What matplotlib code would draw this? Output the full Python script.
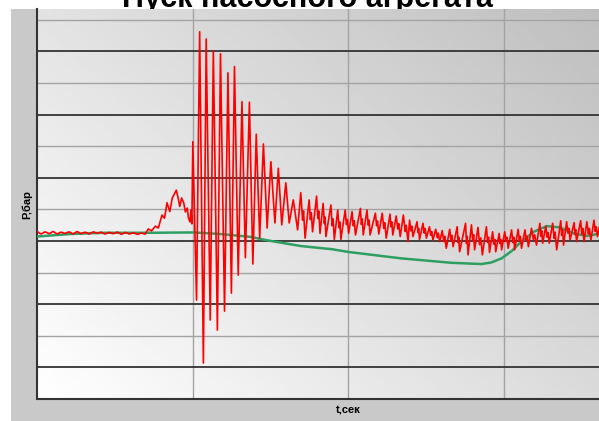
import numpy as np
import matplotlib
matplotlib.use("Agg")
import matplotlib.pyplot as plt
from matplotlib.patches import Rectangle

plt.rcParams["font.family"] = ["Liberation Sans", "DejaVu Sans"]

TITLE = "Пуск насосного агрегата"
X_LABEL = "t,сек"
Y_LABEL = "Р,бар"

# давление на выходе насоса (красная кривая), t в секундах, p в барах
red_t = [
    0.00, 0.13, 0.26, 0.39, 0.52, 0.65, 0.77, 0.90, 1.03, 1.16, 1.29, 1.42, 1.55, 1.68,
    1.81, 1.94, 2.06, 2.19, 2.32, 2.45, 2.58, 2.71, 2.84, 2.97, 3.10, 3.23, 3.35, 3.48,
    3.58, 3.68, 3.81, 3.90, 4.02, 4.10, 4.18, 4.27, 4.35, 4.48, 4.55, 4.59, 4.65, 4.72,
    4.77, 4.83, 4.87, 4.92, 4.95, 4.98,
    5.01, 5.13, 5.23, 5.35, 5.44, 5.57, 5.67, 5.80, 5.90, 6.03, 6.14, 6.25, 6.35, 6.47,
    6.59, 6.70, 6.83, 6.94, 7.05, 7.16, 7.28, 7.40, 7.52, 7.65, 7.76, 7.87, 8.00, 8.11,
    8.24, 8.38, 8.48, 8.62, 8.75, 8.86, 8.99, 9.10, 9.20, 9.29, 9.45, 9.56, 9.67, 9.77,
    9.91, 10.02, 10.13, 10.24, 10.40, 10.49, 10.61, 10.71, 10.88, 10.99,
    11.10, 11.23, 11.35, 11.44, 11.55, 11.68, 11.78, 11.93, 11.98, 12.09, 12.22, 12.30,
    12.41, 12.52, 12.62, 12.73, 12.82, 12.95, 13.03, 13.16, 13.27, 13.38, 13.51, 13.59,
    13.78, 13.86, 13.97, 14.07, 14.18, 14.32, 14.45, 14.55,
    14.65, 14.75, 14.86, 14.94, 15.04, 15.15, 15.26, 15.36, 15.47, 15.58, 15.69, 15.80,
    15.90, 16.06, 16.17, 16.26, 16.36, 16.47, 16.58, 16.71, 16.84, 16.93, 17.03, 17.14,
    17.27, 17.35, 17.48, 17.59, 17.68, 17.81, 17.91, 18.02, 18.13,
]
red_p = [
    5.30, 5.22, 5.29, 5.23, 5.30, 5.22, 5.28, 5.24, 5.29, 5.22, 5.30, 5.23, 5.28, 5.22,
    5.29, 5.24, 5.28, 5.22, 5.27, 5.23, 5.28, 5.21, 5.27, 5.22, 5.26, 5.21, 5.25, 5.22,
    5.38, 5.32, 5.47, 5.41, 5.82, 5.72, 6.21, 5.93, 6.36, 6.61, 6.30, 6.09, 6.36, 6.20,
    5.92, 6.04, 5.73, 5.60, 5.98, 5.54,
    8.14, 3.13, 11.62, 1.14, 11.39, 2.50, 11.01, 2.18, 10.92, 2.78, 10.32, 3.35, 10.52, 3.92,
    9.41, 4.47, 9.39, 4.27, 8.38, 5.09, 8.07, 5.41, 7.51, 5.57, 7.30, 5.51, 6.84, 5.57,
    6.30, 5.35, 6.53, 5.09, 6.30, 5.29, 6.42, 5.24, 6.19, 5.14, 6.14, 5.05, 5.98, 5.05,
    5.98, 5.24, 5.93, 5.19, 6.03, 5.19, 5.98, 5.19, 5.88, 5.22,
    5.88, 5.09, 5.85, 5.19, 5.79, 5.14, 5.82, 4.98, 5.66, 5.14, 5.61, 5.05,
    5.56, 5.09, 5.45, 5.03, 5.37, 4.98, 5.33, 4.77, 5.37, 4.82, 5.45, 4.66,
    5.56, 4.56, 5.51, 4.72, 5.43, 4.56, 5.45, 4.64,
    5.29, 4.66, 5.24, 4.72, 5.29, 4.77, 5.35, 4.72, 5.37, 4.77, 5.35, 4.82,
    5.40, 4.87, 5.56, 4.93, 5.47, 4.93, 5.56, 4.72, 5.64, 4.87, 5.61, 5.03,
    5.58, 4.98, 5.64, 4.98, 5.61, 5.03, 5.66, 5.14, 5.66,
]

# мелкие всплески (шум) на спадах колебаний после 8.5 с
noise_t = [
    8.54, 8.57, 8.79, 8.82, 9.03, 9.06, 9.24, 9.26, 9.49, 9.52, 9.71, 9.74,
    9.95, 9.98, 10.17, 10.20, 10.43, 10.46, 10.65, 10.68, 10.92, 10.95,
    11.15, 11.18, 11.38, 11.41, 11.60, 11.63, 11.84, 11.87, 12.02, 12.05,
    12.25, 12.27, 12.45, 12.48, 12.66, 12.69, 12.87, 12.90, 13.08, 13.11,
    13.31, 13.34, 13.54, 13.56, 13.81, 13.83, 14.01, 14.04, 14.23, 14.27,
    14.49, 14.52, 14.69, 14.72, 14.89, 14.91, 15.08, 15.11, 15.30, 15.33,
    15.51, 15.54, 15.73, 15.76, 15.96, 16.00, 16.20, 16.23, 16.40, 16.43,
    16.63, 16.66, 16.87, 16.90, 17.07, 17.10, 17.30, 17.32, 17.52, 17.55,
    17.73, 17.76, 17.95, 17.98,
]
noise_p = [
    5.66, 5.95, 5.68, 5.90, 5.71, 5.95, 5.55, 5.76, 5.48, 5.70, 5.42, 5.60,
    5.52, 5.68, 5.48, 5.64, 5.52, 5.70, 5.50, 5.66, 5.48, 5.63,
    5.40, 5.58, 5.45, 5.60, 5.38, 5.55, 5.30, 5.50, 5.32, 5.47,
    5.27, 5.40, 5.25, 5.40, 5.18, 5.30, 5.10, 5.25, 4.98, 5.15,
    5.02, 5.18, 4.95, 5.12, 4.92, 5.15, 5.02, 5.20, 4.88, 5.10,
    4.95, 5.12, 4.90, 5.05, 4.92, 5.05, 4.98, 5.12, 4.95, 5.12,
    5.00, 5.15, 5.02, 5.15, 5.05, 5.20, 5.15, 5.32, 5.12, 5.27,
    5.08, 5.28, 5.18, 5.35, 5.25, 5.40, 5.20, 5.36, 5.22, 5.40,
    5.22, 5.40, 5.30, 5.45,
]

# давление на входе (зелёная кривая)
green_t = [0.00, 1.06, 2.16, 3.65, 5.06, 5.90, 6.87, 7.35, 8.48, 9.48, 10.03, 11.71,
           13.32, 14.29, 14.61, 14.94, 15.26, 15.52, 15.97, 16.39, 16.81, 17.26, 17.68, 18.13]
green_p = [5.14, 5.22, 5.26, 5.26, 5.27, 5.22, 5.13, 5.03, 4.84, 4.74, 4.65, 4.45,
           4.31, 4.27, 4.32, 4.45, 4.68, 4.93, 5.29, 5.47, 5.43, 5.24, 5.16, 5.24]

X_MAX = 20
Y_MAX = 12.34
x_grid = [5, 10, 15]
y_dark = [1, 3, 5, 7, 9, 11]
y_light = [2, 4, 6, 8, 10, 12]

# сводим основную кривую и шум в один ряд по времени
all_t = np.array(red_t + noise_t)
all_p = np.array(red_p + noise_p)
order = np.argsort(all_t, kind="stable")
red_full_t = all_t[order]
red_full_p = all_p[order]


fig = plt.figure(figsize=(5.99, 4.21), dpi=100)

panel = Rectangle((11 / 599, 0), 1 - 11 / 599, 1 - 9 / 421, transform=fig.transFigure,
                  facecolor="#c9c9c9", edgecolor="none", zorder=1.5)
fig.add_artist(panel)
fig.text(307 / 599, 1 - 7 / 421, TITLE, ha="center", va="baseline",
         fontsize=22, fontweight="bold", zorder=1)

ax = fig.add_axes([37 / 599, 1 - 399 / 421, 622 / 599, 390 / 421])
ax.set_zorder(2)

# фон с диагональным градиентом
u, v = np.meshgrid(np.linspace(0, 1, 200), np.linspace(0, 1, 200))
grad = 1 - 0.16 * u - 0.11 * v
ax.imshow(grad, cmap="gray", vmin=0, vmax=1, origin="lower", aspect="auto",
          extent=(0, X_MAX, 0, Y_MAX), zorder=0, interpolation="bilinear")

for x in x_grid:
    ax.axvline(x, color="#a3a3a3", lw=1.0, zorder=1)
for y in y_light:
    ax.axhline(y, color="#a3a3a3", lw=1.0, zorder=1)
for y in y_dark:
    ax.axhline(y, color="#333333", lw=1.3, zorder=1)

ax.plot(green_t, green_p, color="#2e9e62", lw=1.8, zorder=3)
ax.plot(red_full_t, red_full_p, color="#ff0000", lw=1.2, zorder=4)

ax.set_xlim(0, X_MAX)
ax.set_ylim(0, Y_MAX)
ax.set_xticks([])
ax.set_yticks([])
for side in ("top", "right"):
    ax.spines[side].set_visible(False)
for side in ("left", "bottom"):
    ax.spines[side].set_color("#333333")
    ax.spines[side].set_linewidth(1.5)

fig.text(348 / 599, 1 - 410.5 / 421, X_LABEL, ha="center", va="center",
         fontsize=8, fontweight="bold", zorder=3)
fig.text(27 / 599, 1 - 205 / 421, Y_LABEL, ha="center", va="center", rotation=90,
         fontsize=8, fontweight="bold", zorder=3)

fig.savefig("out.png", dpi=100)
